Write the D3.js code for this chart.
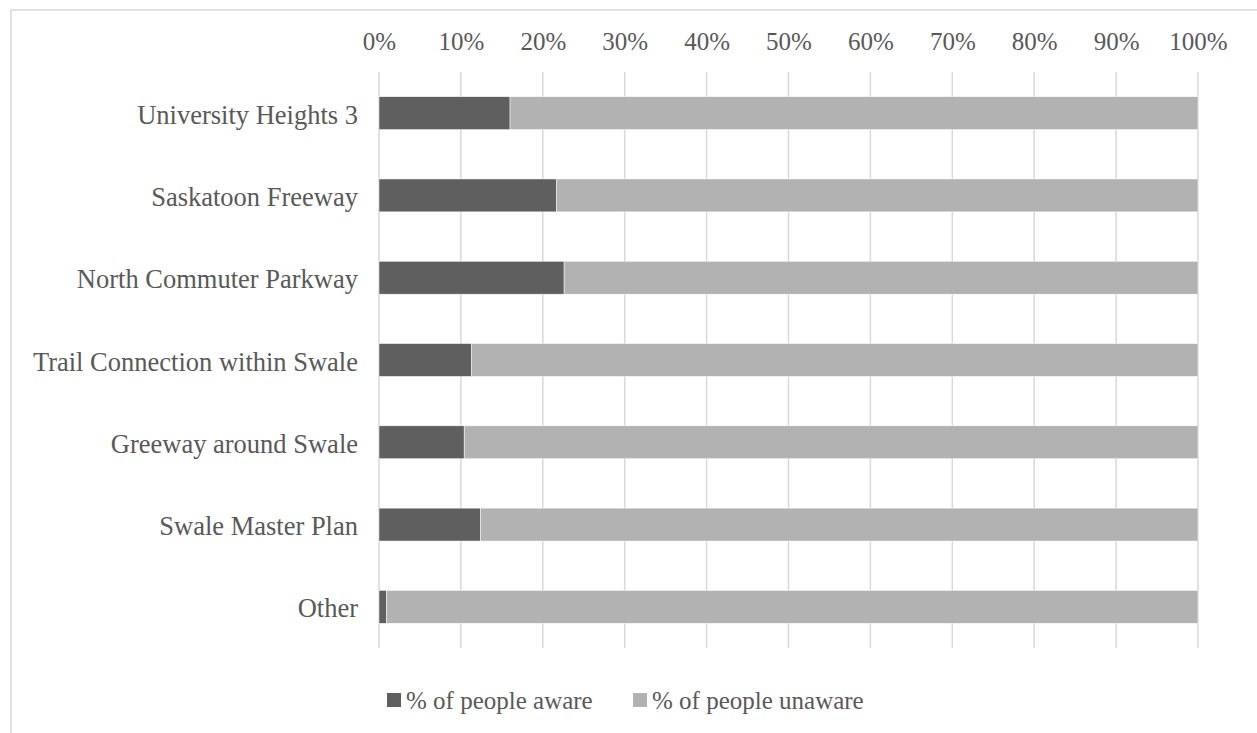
<!DOCTYPE html>
<html>
<head>
<meta charset="utf-8">
<script src="https://cdn.jsdelivr.net/npm/d3@7"></script>
<style>
  body { margin: 0; background: #fff; }
  svg text { font-family: "Liberation Serif", "Times New Roman", serif; fill: #595959; }
</style>
</head>
<body>
<div id="chart"></div>
<script>
var categories = ["University Heights 3", "Saskatoon Freeway", "North Commuter Parkway",
  "Trail Connection within Swale", "Greeway around Swale", "Swale Master Plan", "Other"]
var aware = [16.0, 21.7, 22.6, 11.3, 10.4, 12.4, 0.9]
var unaware = aware.map(function(v){ return 100 - v })
var seriesNames = ["% of people aware", "% of people unaware"]
var seriesColors = ["#5f5f5f", "#b2b2b2"]
var tickValues = [0, 10, 20, 30, 40, 50, 60, 70, 80, 90, 100]

var W = 1257, H = 733
var MARGIN = {TOP: 72, LEFT: 379, RIGHT: 59, BOTTOM: 85}
var FONT = "'Liberation Serif', 'Times New Roman', serif"

var svg = d3.select("#chart").append("svg")
  .attr("width", W)
  .attr("height", H)

// chart frame
svg.append("rect")
  .attr("x", 11).attr("y", 10)
  .attr("width", W + 20).attr("height", H + 20)
  .attr("fill", "none")
  .attr("stroke", "#d9d9d9")
  .attr("stroke-width", 1.5)

var x = d3.scaleLinear()
  .domain([0, 100])
  .range([MARGIN.LEFT, W - MARGIN.RIGHT])

var y = d3.scaleBand()
  .domain(categories)
  .range([MARGIN.TOP, H - MARGIN.BOTTOM])
  .paddingInner(0.6)
  .paddingOuter(0.3)

// gridlines
svg.append("g").selectAll("line")
  .data(tickValues)
  .enter().append("line")
  .attr("x1", function(d){ return x(d) })
  .attr("x2", function(d){ return x(d) })
  .attr("y1", MARGIN.TOP)
  .attr("y2", H - MARGIN.BOTTOM)
  .attr("stroke", "#d9d9d9")
  .attr("stroke-width", 1.5)

// top axis labels
var xAxis = d3.axisTop(x)
  .tickValues(tickValues)
  .tickFormat(function(d){ return d + "%" })
  .tickSize(0)
  .tickPadding(0)

svg.append("g")
  .attr("transform", "translate(0,50)")
  .call(xAxis)
  .attr("font-family", FONT)
  .call(function(g){ g.select(".domain").remove() })
  .selectAll("text")
  .attr("font-size", "25px")
  .attr("fill", "#595959")
  .attr("dy", 0)

// category labels
var yAxis = d3.axisLeft(y).tickSize(0).tickPadding(21)
svg.append("g")
  .attr("transform", "translate(" + MARGIN.LEFT + ",0)")
  .call(yAxis)
  .attr("font-family", FONT)
  .call(function(g){ g.select(".domain").remove() })
  .selectAll("text")
  .attr("font-size", "26.5px")
  .attr("dy", "0.4em")
  .attr("fill", "#595959")

var stacked = categories.map(function(c, i){
  return [{cat: c, x0: 0, x1: aware[i], s: 0}, {cat: c, x0: aware[i], x1: aware[i] + unaware[i], s: 1}]
})

svg.append("g").selectAll("g")
  .data(stacked)
  .enter().append("g")
  .selectAll("rect")
  .data(function(d){ return d })
  .enter().append("rect")
  .attr("x", function(d){ return x(d.x0) })
  .attr("width", function(d){ return x(d.x1) - x(d.x0) })
  .attr("y", function(d){ return y(d.cat) })
  .attr("height", y.bandwidth())
  .attr("fill", function(d){ return seriesColors[d.s] })
  .attr("stroke", "#ffffff")
  .attr("stroke-width", 0.5)

// legend
var legendX = [387, 633]
var legend = svg.append("g").selectAll("g")
  .data(seriesNames)
  .enter().append("g")
  .attr("transform", function(d, i){ return "translate(" + legendX[i] + ",693)" })

legend.append("rect")
  .attr("width", 14).attr("height", 14)
  .attr("fill", function(d, i){ return seriesColors[i] })

legend.append("text")
  .attr("x", 19)
  .attr("y", 16)
  .attr("font-family", FONT)
  .attr("font-size", "25px")
  .text(function(d){ return d })
</script>
</body>
</html>
